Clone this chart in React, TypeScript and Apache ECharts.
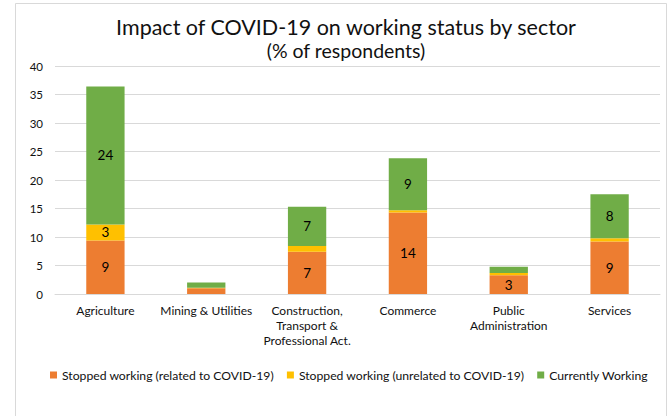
import React, { useEffect, useRef } from "react";
import * as echarts from "echarts";

const categories = [
  "Agriculture",
  "Mining & Utilities",
  "Construction,\nTransport &\nProfessional Act.",
  "Commerce",
  "Public\nAdministration",
  "Services",
];
const stoppedRelated = [9.4, 1.0, 7.4, 14.3, 3.3, 9.2];
const stoppedUnrelated = [2.8, 0.1, 1.0, 0.4, 0.4, 0.6];
const currentlyWorking = [24.2, 0.9, 6.9, 9.1, 1.1, 7.7];
const seriesNames = [
  "Stopped working (related to COVID-19)",
  "Stopped working (unrelated to COVID-19)",
  "Currently Working",
];
const colors = ["#ED7D31", "#FFC000", "#70AD47"];

const FONT = "Lato, 'Open Sans', sans-serif";

export default function App() {
  const ref = useRef<HTMLDivElement>(null);
  useEffect(() => {
    if (!ref.current) return;
    const chart = echarts.init(ref.current, null, { renderer: "svg" });
    const label = {
      show: true,
      position: "inside" as const,
      color: "#000",
      fontSize: 13.5,
      fontFamily: FONT,
      formatter: (p: any) => (p.value >= 2.5 ? String(Math.round(p.value)) : ""),
    };
    const datas = [stoppedRelated, stoppedUnrelated, currentlyWorking];
    chart.setOption({
      animation: false,
      textStyle: { fontFamily: FONT },
      title: {
        text: "Impact of COVID-19 on working status by sector",
        subtext: "(% of respondents)",
        left: 341,
        textAlign: "center",
        top: 11,
        itemGap: 2,
        textStyle: { fontSize: 21.5, fontWeight: "normal", color: "#111", fontFamily: FONT },
        subtextStyle: { fontSize: 19.5, color: "#111", fontFamily: FONT },
      },
      graphic: [
        {
          type: "rect",
          shape: { x: 15.5, y: 3.5, width: 651, height: 430 },
          style: { fill: "none", stroke: "#d9d9d9", lineWidth: 1 },
          silent: true,
        },
      ],
      legend: {
        bottom: 30,
        left: 45,
        itemWidth: 7,
        itemHeight: 7,
        itemGap: 13,
        icon: "rect",
        textStyle: { fontSize: 12.2, color: "#111", fontFamily: FONT },
        data: seriesNames,
      },
      grid: { left: 55, right: 9, top: 66, bottom: 122 },
      xAxis: {
        type: "category",
        data: categories,
        axisTick: { show: false },
        axisLine: { lineStyle: { color: "#d9d9d9" } },
        axisLabel: {
          color: "#111",
          fontSize: 12,
          lineHeight: 15,
          margin: 9,
          interval: 0,
          fontFamily: FONT,
        },
      },
      yAxis: {
        type: "value",
        min: 0,
        max: 40,
        interval: 5,
        axisLabel: { color: "#111", fontSize: 11.5, margin: 12, fontFamily: FONT },
        splitLine: { lineStyle: { color: "#d9d9d9" } },
      },
      series: datas.map((d, i) => ({
        name: seriesNames[i],
        type: "bar",
        stack: "total",
        data: d,
        barWidth: "38%",
        itemStyle: { color: colors[i] },
        label,
      })),
    });
    return () => chart.dispose();
  }, []);
  return (
    <div
      ref={ref}
      style={{ position: "fixed", left: 0, top: 0, width: 669, height: 416, background: "#fff" }}
    />
  );
}
